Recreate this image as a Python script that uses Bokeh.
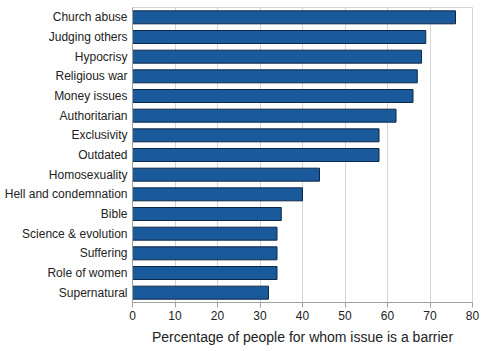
from bokeh.plotting import figure
from bokeh.models import FactorRange, Range1d, SingleIntervalTicker
from bokeh.embed import file_html
from bokeh.resources import INLINE

issues = ["Church abuse", "Judging others", "Hypocrisy", "Religious war", "Money issues",
          "Authoritarian", "Exclusivity", "Outdated", "Homosexuality", "Hell and condemnation",
          "Bible", "Science & evolution", "Suffering", "Role of women", "Supernatural"]
percent = [76, 69, 68, 67, 66, 62, 58, 58, 44, 40, 35, 34, 34, 34, 32]

p = figure(width=486, height=351, output_backend="svg", toolbar_location=None,
           y_range=FactorRange(factors=list(reversed(issues))),
           x_range=Range1d(0, 80),
           min_border_left=132, min_border_right=14, min_border_top=7, min_border_bottom=49)

p.hbar(y=issues, right=percent, left=0, height=0.66,
       fill_color="#1a5a9b", line_color="#0c2747", line_width=1)

p.xaxis.ticker = SingleIntervalTicker(interval=10, num_minor_ticks=0)
p.xaxis.axis_label = "Percentage of people for whom issue is a barrier"
p.xaxis.axis_label_text_font = "Liberation Sans"
p.xaxis.axis_label_text_font_style = "normal"
p.xaxis.axis_label_text_font_size = "14px"
p.xaxis.axis_label_text_color = "#222222"
p.xaxis.axis_label_standoff = 6
p.xaxis.major_label_text_font = "Liberation Sans"
p.xaxis.major_label_text_font_size = "12px"
p.xaxis.major_label_text_color = "#222222"
p.xaxis.major_label_standoff = 3
p.xaxis.major_tick_out = 5
p.xaxis.major_tick_in = 0
p.xaxis.minor_tick_out = 0
p.xaxis.axis_line_color = "#a0a0a0"
p.xaxis.major_tick_line_color = "#a0a0a0"

p.yaxis.major_label_text_font = "Liberation Sans"
p.yaxis.major_label_text_font_size = "12px"
p.yaxis.major_label_text_color = "#222222"
p.yaxis.major_label_standoff = 5
p.yaxis.major_tick_out = 0
p.yaxis.major_tick_in = 0
p.yaxis.axis_line_color = "#a0a0a0"

p.xgrid.grid_line_color = "#d6d6d6"
p.ygrid.grid_line_color = None
p.outline_line_color = "#d6d6d6"
p.background_fill_color = "white"
p.border_fill_color = "white"

open("out.html", "w").write(file_html(p, INLINE))
